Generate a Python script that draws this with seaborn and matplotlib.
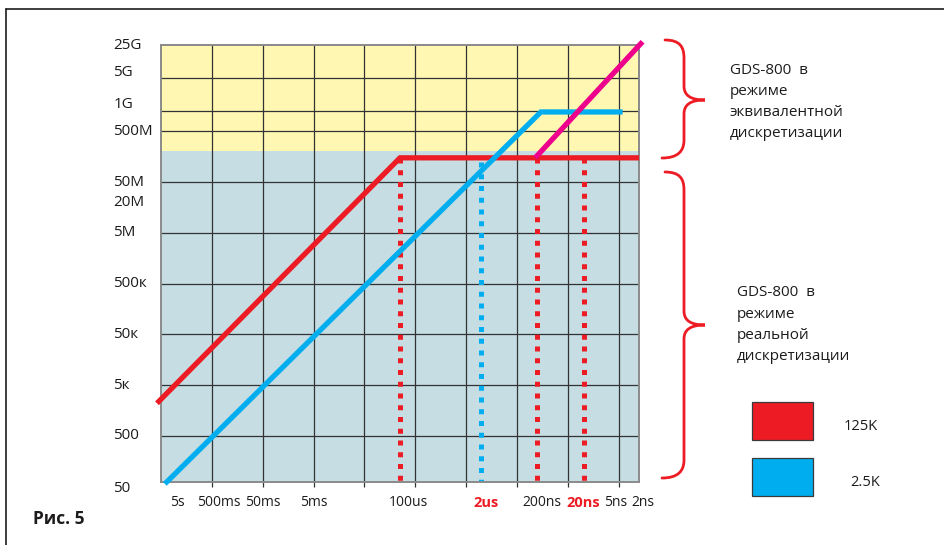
import numpy as np
import pandas as pd
import seaborn as sns
import matplotlib.pyplot as plt
from matplotlib.patches import Rectangle, PathPatch
from matplotlib.path import Path
from matplotlib.lines import Line2D
from matplotlib.ticker import NullFormatter, NullLocator
from matplotlib.transforms import ScaledTranslation

sns.set_style("ticks")
plt.rcParams['font.family'] = ['Open Sans', 'DejaVu Sans']

# ---------- данные ----------
# время на деление (с) -> частота дискретизации (выб/с)
red_t = [6.0, 1e-4, 2e-9]
red_rate = [2.2e3, 1.5e8, 1.5e8]          # 125K
blue_t = [4.2, 1.7e-7, 4.2e-9]
blue_rate = [57, 1.2e9, 1.2e9]            # 2.5K
equiv_t = [2.2e-7, 1.7e-9]
equiv_rate = [1.5e8, 2.9e10]              # эквивалентная дискретизация

red_mark_t = [1e-4, 2e-7, 2.4e-8]
red_mark_top = [1.5e8, 1.5e8, 1.5e8]
blue_mark_t = [2.6e-6]
blue_mark_top = [1.25e8]

x_labels = ['5s', '500ms', '50ms', '5ms', '100us', '2us', '200ns', '20ns', '5ns', '2ns']
x_label_vals = [5, 0.5, 0.05, 5e-3, 1e-4, 2e-6, 2e-7, 2e-8, 5e-9, 2e-9]
x_red_labels = ['2us', '20ns']
x_grid = [0.5, 0.05, 5e-3, 5e-4, 5e-5, 5e-6, 5e-7, 5e-8, 5e-9]

y_labels = ['25G', '5G', '1G', '500M', '50M', '20M', '5M', '500к', '50к', '5к', '500', '50']
y_label_vals = [25e9, 5e9, 1e9, 5e8, 5e7, 2e7, 5e6, 5e5, 5e4, 5e3, 500, 50]
y_grid = [5.5e9, 1.25e9, 5e8, 5e7, 5e6, 5e5, 5e4, 5e3, 500]
equiv_zone = 2e8

legend_labels = ['125K', '2.5K']

RED = '#ed1c24'
BLUE = '#00aeef'
MAGENTA = '#ec008c'
YELLOW = '#fff7b2'
GREYBLUE = '#c5dde3'
INK = '#1e1b1c'

W, H = 945, 545
fig = plt.figure(figsize=(W / 100, H / 100), dpi=100)


def fx(x):
    return x / W


def fy(y):
    return 1 - y / H


ax = fig.add_axes([fx(161), fy(482), 478 / W, 437 / H])
ax.set_xscale('log')
ax.set_yscale('log')
ax.set_xlim(5, 2e-9)
ax.set_ylim(62, 25e9)

ax.axhspan(62, equiv_zone, color=GREYBLUE, zorder=0, lw=0)
ax.axhspan(equiv_zone, 25e9, color=YELLOW, zorder=0, lw=0)

# сетка
ax.set_xticks(x_grid, minor=True)
ax.set_yticks(y_grid, minor=True)
ax.xaxis.set_major_locator(NullLocator())
ax.yaxis.set_major_locator(NullLocator())
ax.xaxis.set_minor_formatter(NullFormatter())
ax.yaxis.set_minor_formatter(NullFormatter())
ax.grid(which='minor', color='#333333', lw=0.9)
ax.set_axisbelow(True)
ax.tick_params(axis='x', which='minor', length=3.5, width=0.9, color='#333333', direction='out')
ax.tick_params(axis='y', which='minor', length=0)
for s in ax.spines.values():
    s.set_color('#8a8a8a')
    s.set_linewidth(1.4)

# пунктирные отметки
dot = dict(lw=3.6, linestyle=(0, (1, 1.35)), estimator=None, sort=False, legend=False, zorder=2)
for t, top in zip(red_mark_t, red_mark_top):
    sns.lineplot(x=[t, t], y=[top, 62], ax=ax, color=RED, **dot)
for t, top in zip(blue_mark_t, blue_mark_top):
    sns.lineplot(x=[t, t], y=[top, 62], ax=ax, color=BLUE, **dot)

# основные линии
solid = dict(lw=3.8, estimator=None, sort=False, legend=False, clip_on=False,
             solid_capstyle='butt', solid_joinstyle='miter')
sns.lineplot(x=red_t, y=red_rate, ax=ax, color=RED, zorder=3, **solid)
sns.lineplot(x=blue_t, y=blue_rate, ax=ax, color=BLUE, zorder=4, **solid)
sns.lineplot(x=equiv_t, y=equiv_rate, ax=ax, color=MAGENTA, zorder=5, **solid)
ax.set_xlabel('')
ax.set_ylabel('')

# подписи осей
x_shift = {'5s': 16, '500ms': 7, '100us': 8, '200ns': 5, '20ns': -5, '5ns': -3, '2ns': 4}
for lab, v in zip(x_labels, x_label_vals):
    red = lab in x_red_labels
    tr = ax.get_xaxis_transform() + ScaledTranslation(x_shift.get(lab, 0) / 100, 0, fig.dpi_scale_trans)
    ax.text(v, -0.048, lab, transform=tr, ha='center', va='center',
            fontsize=10.5 if red else 10,
            color=RED if red else INK, fontweight='bold' if red else 'normal', clip_on=False)

y_shift = {'5G': -8, '1G': -11, '50': 2}
for lab, v in zip(y_labels, y_label_vals):
    tr = ax.get_yaxis_transform() + ScaledTranslation(0, -y_shift.get(lab, 0) / 100, fig.dpi_scale_trans)
    ax.text(-0.1, v, lab, transform=tr, ha='left', va='center', fontsize=11,
            color=INK, clip_on=False)


# фигурные скобки
def brace(y0, ytip, y1):
    verts = [(665, y0), (680, y0), (684, y0 + 7), (684, y0 + 18),
             (684, ytip - 14),
             (684, ytip - 5), (690, ytip), (705, ytip),
             (690, ytip), (684, ytip + 5), (684, ytip + 14),
             (684, y1 - 18),
             (684, y1 - 7), (678, y1), (662, y1)]
    codes = [Path.MOVETO, Path.CURVE4, Path.CURVE4, Path.CURVE4, Path.LINETO,
             Path.CURVE4, Path.CURVE4, Path.CURVE4,
             Path.CURVE4, Path.CURVE4, Path.CURVE4, Path.LINETO,
             Path.CURVE4, Path.CURVE4, Path.CURVE4]
    p = Path([(fx(a), fy(b)) for a, b in verts], codes)
    fig.patches.append(PathPatch(p, transform=fig.transFigure, fill=False,
                                 edgecolor=RED, lw=2.0, capstyle='round'))


brace(40, 100, 158)
brace(172, 325, 478)

txt = dict(fontsize=11, color=INK, ha='left', va='center')
for i, line in enumerate(['GDS-800  в', 'режиме', 'эквивалентной', 'дискретизации']):
    fig.text(fx(730), fy(70 + i * 21.3), line, **txt)
for i, line in enumerate(['GDS-800  в', 'режиме', 'реальной', 'дискретизации']):
    fig.text(fx(737), fy(293 + i * 21.3), line, **txt)

# легенда
for (ytop, col, lab, lx) in [(402, RED, legend_labels[0], 844), (458, BLUE, legend_labels[1], 850)]:
    fig.patches.append(Rectangle((fx(752), fy(ytop + 38)), 61 / W, 38 / H,
                                 transform=fig.transFigure, facecolor=col,
                                 edgecolor='#3a3a3a', lw=0.9))
    fig.text(fx(lx), fy(ytop + 24), lab, fontsize=10.5, color=INK, ha='left', va='center')

fig.text(fx(33), fy(519), 'Рис. 5', fontsize=12.5, fontweight='bold', color=INK,
         ha='left', va='center')

# рамка
fig.add_artist(Line2D([fx(6), 1], [fy(9), fy(9)], transform=fig.transFigure, color=INK, lw=1.2))
fig.add_artist(Line2D([fx(6), fx(6)], [fy(9), 0], transform=fig.transFigure, color=INK, lw=1.2))

fig.savefig('out.png', dpi=100)
